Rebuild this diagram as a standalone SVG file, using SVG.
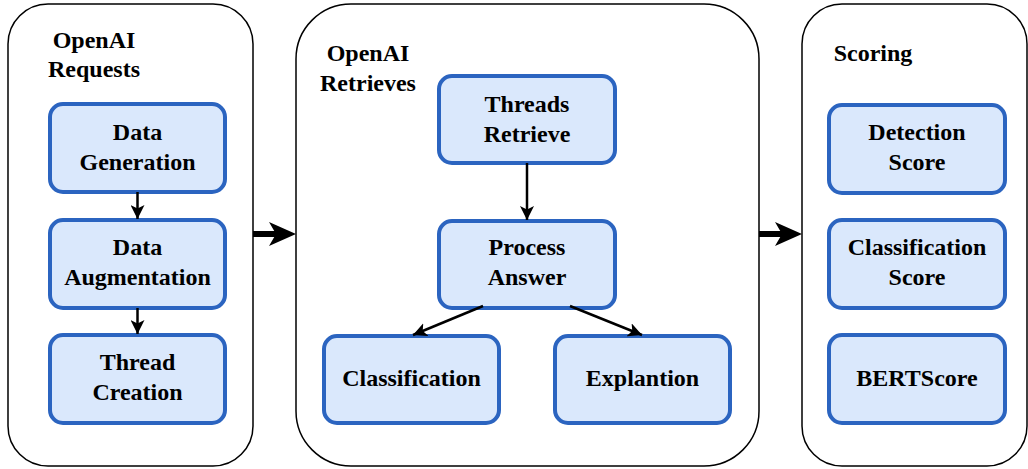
<svg xmlns="http://www.w3.org/2000/svg" width="1028" height="469" viewBox="0 0 1028 469">
<defs>
<style>
.box{fill:#ffffff;stroke:#000000;stroke-width:1.5}
.node{fill:#dae8fc;stroke:#2b64c0;stroke-width:4}
.t{font-family:"Liberation Serif","Times New Roman",serif;font-weight:bold;font-size:24px;fill:#000000;text-anchor:middle}
.c{stroke:#000000;stroke-width:2.5;fill:none}
.big{stroke:#000000;stroke-width:6;fill:none}
</style>
<marker id="ah" markerUnits="userSpaceOnUse" markerWidth="14" markerHeight="14" viewBox="0 0 14 14" refX="14" refY="7" orient="auto">
<path d="M0,0 L14,7 L0,14 L3.5,7 z" fill="#000000"/>
</marker>
</defs>
<g id="container-requests">
<rect class="box" x="8" y="4" width="245" height="462" rx="40" ry="40"/>
<text class="t" x="94" y="48">OpenAI</text>
<text class="t" x="94" y="77">Requests</text>
</g>
<g id="container-retrieves">
<rect class="box" x="296" y="4" width="463" height="462" rx="55" ry="55"/>
<text class="t" x="368" y="61">OpenAI</text>
<text class="t" x="368" y="91">Retrieves</text>
</g>
<g id="container-scoring">
<rect class="box" x="802" y="4" width="225" height="462" rx="40" ry="40"/>
<text class="t" x="873" y="61">Scoring</text>
</g>
<g id="node-data-generation">
<rect class="node" x="50" y="104" width="175" height="88" rx="13"/>
<text class="t" x="137.5" y="140">Data</text>
<text class="t" x="137.5" y="170">Generation</text>
</g>
<g id="node-data-augmentation">
<rect class="node" x="50" y="220" width="175" height="88" rx="13"/>
<text class="t" x="137.5" y="255">Data</text>
<text class="t" x="137.5" y="285">Augmentation</text>
</g>
<g id="node-thread-creation">
<rect class="node" x="50" y="335" width="175" height="88" rx="13"/>
<text class="t" x="137.5" y="370">Thread</text>
<text class="t" x="137.5" y="400">Creation</text>
</g>
<g id="node-threads-retrieve">
<rect class="node" x="439" y="76" width="176" height="87" rx="13"/>
<text class="t" x="527" y="112">Threads</text>
<text class="t" x="527" y="142">Retrieve</text>
</g>
<g id="node-process-answer">
<rect class="node" x="439" y="221" width="176" height="87" rx="13"/>
<text class="t" x="527" y="255">Process</text>
<text class="t" x="527" y="285">Answer</text>
</g>
<g id="node-classification">
<rect class="node" x="324" y="336" width="175" height="87" rx="13"/>
<text class="t" x="411.5" y="386">Classification</text>
</g>
<g id="node-explantion">
<rect class="node" x="555" y="336" width="175" height="87" rx="13"/>
<text class="t" x="642.5" y="386">Explantion</text>
</g>
<g id="node-detection-score">
<rect class="node" x="829" y="105" width="176" height="88" rx="13"/>
<text class="t" x="917" y="140">Detection</text>
<text class="t" x="917" y="170">Score</text>
</g>
<g id="node-classification-score">
<rect class="node" x="829" y="220" width="176" height="88" rx="13"/>
<text class="t" x="917" y="255">Classification</text>
<text class="t" x="917" y="285">Score</text>
</g>
<g id="node-bertscore">
<rect class="node" x="829" y="335" width="176" height="88" rx="13"/>
<text class="t" x="917" y="386">BERTScore</text>
</g>
<g id="connectors">
<line class="c" x1="137.5" y1="192" x2="137.5" y2="219" marker-end="url(#ah)"/>
<line class="c" x1="137.5" y1="308" x2="137.5" y2="334" marker-end="url(#ah)"/>
<line class="c" x1="527" y1="163" x2="527" y2="220" marker-end="url(#ah)"/>
<line class="c" x1="483" y1="306" x2="413" y2="335" marker-end="url(#ah)"/>
<line class="c" x1="570" y1="306" x2="642" y2="335" marker-end="url(#ah)"/>
<line class="big" x1="253" y1="234" x2="278" y2="234"/>
<path d="M296,234 L269,222 L276,234 L269,246 z" fill="#000000"/>
<line class="big" x1="759" y1="234" x2="784" y2="234"/>
<path d="M802,234 L775,222 L782,234 L775,246 z" fill="#000000"/>
</g>
</svg>
